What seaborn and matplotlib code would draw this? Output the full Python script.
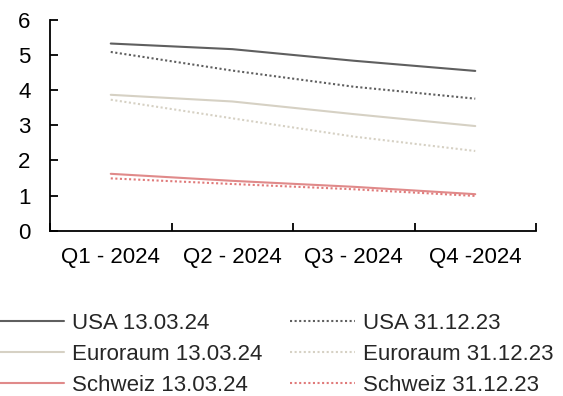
import matplotlib
matplotlib.use("Agg")
import matplotlib.pyplot as plt
import seaborn as sns
import pandas as pd

quarters = ["Q1 - 2024", "Q2 - 2024", "Q3 - 2024", "Q4 -2024"]

usa_0313 = [5.33, 5.17, 4.84, 4.55]
usa_1231 = [5.09, 4.56, 4.10, 3.76]
euro_0313 = [3.87, 3.68, 3.32, 2.98]
euro_1231 = [3.73, 3.20, 2.68, 2.27]
ch_0313 = [1.62, 1.42, 1.25, 1.04]
ch_1231 = [1.49, 1.33, 1.18, 0.99]

series = [
    ("USA 13.03.24", usa_0313, "#5f5f5f", "-"),
    ("Euroraum 13.03.24", euro_0313, "#d6d1c4", "-"),
    ("Schweiz 13.03.24", ch_0313, "#e08a8a", "-"),
    ("USA 31.12.23", usa_1231, "#5f5f5f", (0, (1, 1.2))),
    ("Euroraum 31.12.23", euro_1231, "#d6d1c4", (0, (1, 1.2))),
    ("Schweiz 31.12.23", ch_1231, "#e07a7a", (0, (1, 1.2))),
]

sns.set_theme(style="white")
plt.rcParams["font.family"] = ["Liberation Sans", "DejaVu Sans"]

fig = plt.figure(figsize=(5.63, 3.96), dpi=100)
ax = fig.add_axes([50 / 563, 1 - 230.7 / 396, (536 - 50) / 563, (230.7 - 20) / 396])

pos = list(range(len(quarters)))
for name, vals, color, ls in series:
    df = pd.DataFrame({"x": pos, "y": vals})
    sns.lineplot(data=df, x="x", y="y", ax=ax, color=color, linestyle=ls,
                 linewidth=1.5, label=name, legend=False)

ax.set_xlim(-0.5, len(quarters) - 0.5)
ax.set_ylim(0, 6)
ax.set_yticks(range(0, 7))
ax.set_xticks(pos)
ax.set_xticklabels(quarters)
ax.set_xticks([p - 0.5 for p in pos] + [len(quarters) - 0.5], minor=True)
ax.tick_params(axis="x", which="major", length=0, pad=12, labelsize=16, colors="black")
ax.tick_params(axis="x", which="minor", direction="in", length=6, width=1.3, color="black", bottom=True)
ax.tick_params(axis="y", direction="in", length=6, width=1.3, color="black", left=True,
               labelsize=16, pad=14, labelcolor="black")
ax.set_xlabel("")
ax.set_ylabel("")
for side in ["top", "right"]:
    ax.spines[side].set_visible(False)
for side in ["left", "bottom"]:
    ax.spines[side].set_color("black")
    ax.spines[side].set_linewidth(1.3)

handles, labels = ax.get_legend_handles_labels()
fig.legend(handles, labels, ncol=2, loc="upper left", bbox_to_anchor=(-0.002, 0.2104),
           frameon=False, fontsize=16, handlelength=2.93, handletextpad=0.36,
           columnspacing=1.26, labelspacing=0.45, borderpad=0, borderaxespad=0)

fig.savefig("out.png", dpi=100)
